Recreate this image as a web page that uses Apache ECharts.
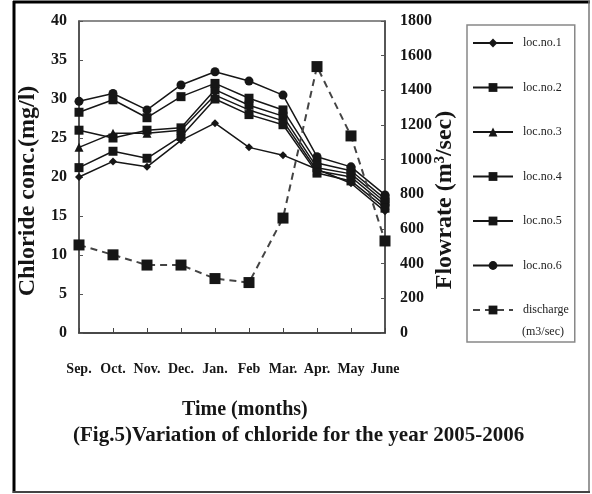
<!DOCTYPE html>
<html><head><meta charset="utf-8">
<script src="https://cdn.jsdelivr.net/npm/echarts@6/dist/echarts.min.js"></script>
<style>html,body{margin:0;padding:0;background:#fff}#c{width:592px;height:494px}</style>
</head><body><div id="c"></div>
<script>
const months = ['Sep.', 'Oct.', 'Nov.', 'Dec.', 'Jan.', 'Feb', 'Mar.', 'Apr.', 'May', 'June'];
const loc1 = [20.0, 22.0, 21.3, 24.7, 26.9, 23.8, 22.8, 21.0, 19.2, 15.6];
const loc2 = [26.0, 25.0, 26.0, 26.3, 31.2, 29.2, 27.8, 21.2, 20.4, 16.8];
const loc3 = [23.8, 25.6, 25.6, 26.0, 30.5, 28.6, 27.2, 20.8, 20.0, 16.4];
const loc4 = [21.2, 23.3, 22.4, 25.2, 30.0, 28.0, 26.7, 20.5, 19.5, 16.0];
const loc5 = [28.3, 29.9, 27.6, 30.3, 32.0, 30.1, 28.6, 21.8, 20.8, 17.2];
const loc6 = [29.7, 30.7, 28.6, 31.8, 33.5, 32.3, 30.5, 22.6, 21.3, 17.7];
const discharge = [508, 451, 392, 392, 314, 291, 663, 1537, 1137, 531];
const seriesNames = ['loc.no.1', 'loc.no.2', 'loc.no.3', 'loc.no.4', 'loc.no.5', 'loc.no.6', 'discharge'];

const FONT = 'Liberation Serif';
const INK = '#161616';
const chart = echarts.init(document.getElementById('c'));

function locSeries(name, data, symbol, size) {
  return {
    name, type: 'line', data, yAxisIndex: 0,
    symbol, symbolSize: size,
    lineStyle: { color: INK, width: 1.5 },
    itemStyle: { color: INK },
    animation: false
  };
}

chart.setOption({
  animation: false,
  backgroundColor: '#fff',
  grid: { left: 79, top: 21, width: 306, height: 312, show: true, borderColor: '#666', borderWidth: 1.5 },
  title: [
    { text: 'Time (months)', left: 182, top: 400, padding: 0, textStyle: { fontFamily: FONT, fontWeight: 'bold', fontSize: 20, color: INK } },
    { text: '(Fig.5)Variation of chloride for the year 2005-2006', left: 73, top: 425, padding: 0, textStyle: { fontFamily: FONT, fontWeight: 'bold', fontSize: 21, color: INK } }
  ],
  legend: {
    orient: 'vertical', left: 467, top: 25,
    padding: [12, 6, 26, 5], itemGap: 32.5, itemWidth: 40, itemHeight: 11,
    borderColor: '#888', borderWidth: 1.5,
    data: seriesNames,
    textStyle: { fontFamily: FONT, fontSize: 12, color: '#222', width: 63, padding: [0, 0, 0, 5] }
  },
  xAxis: {
    type: 'category', data: months, boundaryGap: false,
    axisLine: { lineStyle: { color: '#333', width: 1.5 } },
    axisTick: { inside: true, length: 5, lineStyle: { color: '#444' } },
    axisLabel: { interval: 0, margin: 29, fontFamily: FONT, fontWeight: 'bold', fontSize: 14, color: INK }
  },
  yAxis: [
    {
      type: 'value', min: 0, max: 40, interval: 5, position: 'left',
      splitLine: { show: false },
      axisLine: { show: true, lineStyle: { color: '#444', width: 1.5 } },
      axisTick: { show: true, inside: true, length: 4, lineStyle: { color: '#555' } },
      axisLabel: { margin: 12, fontFamily: FONT, fontWeight: 'bold', fontSize: 16, color: INK }
    },
    {
      type: 'value', min: 0, max: 1800, interval: 200, position: 'right',
      splitLine: { show: false },
      axisLine: { show: true, lineStyle: { color: '#444', width: 1.5 } },
      axisTick: { show: true, inside: true, length: 4, lineStyle: { color: '#555' } },
      axisLabel: { margin: 15, fontFamily: FONT, fontWeight: 'bold', fontSize: 16, color: INK, formatter: v => String(v) }
    }
  ],
  series: [
    locSeries('loc.no.1', loc1, 'diamond', 8),
    locSeries('loc.no.2', loc2, 'rect', 9),
    locSeries('loc.no.3', loc3, 'triangle', 9),
    locSeries('loc.no.4', loc4, 'rect', 9),
    locSeries('loc.no.5', loc5, 'rect', 9),
    locSeries('loc.no.6', loc6, 'circle', 9),
    {
      name: 'discharge', type: 'line', data: discharge, yAxisIndex: 1,
      symbol: 'rect', symbolSize: 11,
      lineStyle: { color: '#444', width: 2, type: [7, 5] },
      itemStyle: { color: INK },
      animation: false
    }
  ],
  graphic: [
    { type: 'line', shape: { x1: 13, y1: 2, x2: 590, y2: 2 }, style: { stroke: '#000', lineWidth: 3 } },
    { type: 'line', shape: { x1: 14, y1: 1, x2: 14, y2: 493 }, style: { stroke: '#000', lineWidth: 3 } },
    { type: 'line', shape: { x1: 589, y1: 1, x2: 589, y2: 493 }, style: { stroke: '#777', lineWidth: 1.5 } },
    { type: 'line', shape: { x1: 13, y1: 492, x2: 590, y2: 492 }, style: { stroke: '#444', lineWidth: 2 } },
    { type: 'text', x: 28, y: 191, rotation: Math.PI / 2,
      style: { text: 'Chloride conc.(mg/l)', fontFamily: FONT, fontWeight: 'bold', fontSize: 24, fill: INK, align: 'center', verticalAlign: 'middle' } },
    { type: 'text', x: 445, y: 200, rotation: Math.PI / 2,
      style: { text: 'Flowrate (m³/sec)', fontFamily: FONT, fontWeight: 'bold', fontSize: 24, fill: INK, align: 'center', verticalAlign: 'middle' } },
    { type: 'text', x: 522, y: 332,
      style: { text: '(m3/sec)', fontFamily: FONT, fontSize: 12, fill: '#222', align: 'left', verticalAlign: 'middle' } }
  ]
});
</script></body></html>
